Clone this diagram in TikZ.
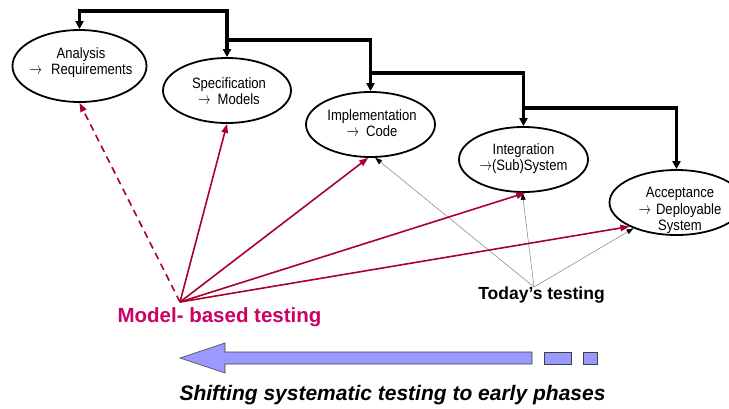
\documentclass[tikz,border=0pt]{standalone}
\usepackage{fontspec}
\usepackage{graphicx}
\setmainfont{Liberation Sans}
\newfontfamily\narrowfont[FakeStretch=0.87]{Liberation Sans}
\usetikzlibrary{shapes.geometric,arrows.meta}
\definecolor{mbtred}{RGB}{170,0,45}
\definecolor{mbtpink}{RGB}{204,0,102}
\definecolor{shiftblue}{RGB}{153,153,255}
\newcommand\phasearrow{\scalebox{0.72}[1.0]{\fontsize{16}{16}\selectfont$\rightarrow$}}
\begin{document}
\begin{tikzpicture}[x=1pt,y=-1pt,
  phase/.style={ellipse, draw, line width=1.8pt, inner sep=0pt},
  phasetext/.style={align=center, inner sep=0pt, font=\narrowfont\fontsize{15}{16}\selectfont},
  flow/.style={line width=3.3pt, -{Triangle[length=8pt,width=8pt]}},
  flowboth/.style={line width=3.3pt, {Triangle[length=8pt,width=8pt]}-{Triangle[length=8pt,width=8pt]}},
  mbtarrow/.style={mbtred, line width=1.6pt, -{Triangle[length=9pt,width=6.5pt]}},
  todayarrow/.style={gray, line width=0.5pt, -{Triangle[length=7pt,width=5pt,color=black]}},
  blueshape/.style={fill=shiftblue, draw=black!75, line width=0.6pt}
]
\useasboundingbox (0,0) rectangle (729,408);
\clip (0,0) rectangle (729,408);

% phases
\node[phase, minimum width=134pt, minimum height=72pt] (ana) at (79.5,66) {};
\node[phase, minimum width=128pt, minimum height=65pt] (spec) at (227,90.5) {};
\node[phase, minimum width=129pt, minimum height=65pt] (impl) at (370.5,124.5) {};
\node[phase, minimum width=129pt, minimum height=65pt] (integ) at (523.5,159.5) {};
\node[phase, minimum width=134pt, minimum height=65pt] (acc) at (676.5,202.5) {};

\node[phasetext] (anat) at (81,63) {Analysis\\\phasearrow\hspace{9pt}Requirements};
\node[phasetext] (spect) at (229,91) {Specification\\\phasearrow\hspace{7pt}Models};
\node[phasetext] (implt) at (372,123.5) {Implementation\\\phasearrow\hspace{7pt}Code};
\node[phasetext] (integt) at (523.5,158.5) {Integration\\\phasearrow(Sub)System};
\node[phasetext, font=\narrowfont\fontsize{15}{16.5}\selectfont] (acct) at (680,210.5) {Acceptance\\\phasearrow\hspace{5pt}Deployable\\System};

% flow connectors
\coordinate (c1a) at (79.5,11);
\coordinate (c1b) at (227,11);
\draw[flowboth] (ana.north) -- (c1a) -- (c1b) -- (spec.north);
\coordinate (c2a) at (227,40);
\coordinate (c2b) at (370.5,40);
\draw[flow] (c2a) -- (c2b) -- (impl.north);
\coordinate (c3a) at (370.5,73);
\coordinate (c3b) at (523.5,73);
\draw[flow] (c3a) -- (c3b) -- (integ.north);
\coordinate (c4a) at (523.5,108);
\coordinate (c4b) at (676.5,108);
\draw[flow] (c4a) -- (c4b) -- (acc.north);

% labels
\node[anchor=base, inner sep=0pt, text=mbtpink, font=\bfseries\fontsize{20.5}{22}\selectfont] (mbtl) at (219.5,322) {Model- based testing};
\node[anchor=base, inner sep=0pt, font=\bfseries\fontsize{17.5}{19}\selectfont] (todl) at (541.5,299) {Today’s testing};
\node[anchor=base, inner sep=0pt, font=\bfseries\itshape\fontsize{21}{23}\selectfont] (shiftl) at (392.5,400) {Shifting systematic testing to early phases};

\coordinate (mbt) at (180,302);
\coordinate (tod) at (534,287);

% today's testing (gray)
\draw[todayarrow] (tod) -- (impl.278);
\draw[todayarrow] (tod) -- (integ.268);
\draw[todayarrow] (tod) -- (acc.211);

% model-based testing (red)
\draw[mbtarrow, dash pattern=on 7pt off 5pt] (mbt) -- (ana.south);
\draw[mbtarrow] (mbt) -- (spec.south);
\draw[mbtarrow] (mbt) -- (impl.266);
\draw[mbtarrow] (mbt) -- (integ.273);
\draw[mbtarrow] (mbt) -- (acc.207);

% shifting arrow
\draw[blueshape] (180,358) -- (225,343) -- (225,352) -- (532,352) -- (532,364) -- (225,364) -- (225,373) -- cycle;
\draw[blueshape] (544,352) rectangle (571,364);
\draw[blueshape] (583,352) rectangle (597,364);
\end{tikzpicture}
\end{document}
